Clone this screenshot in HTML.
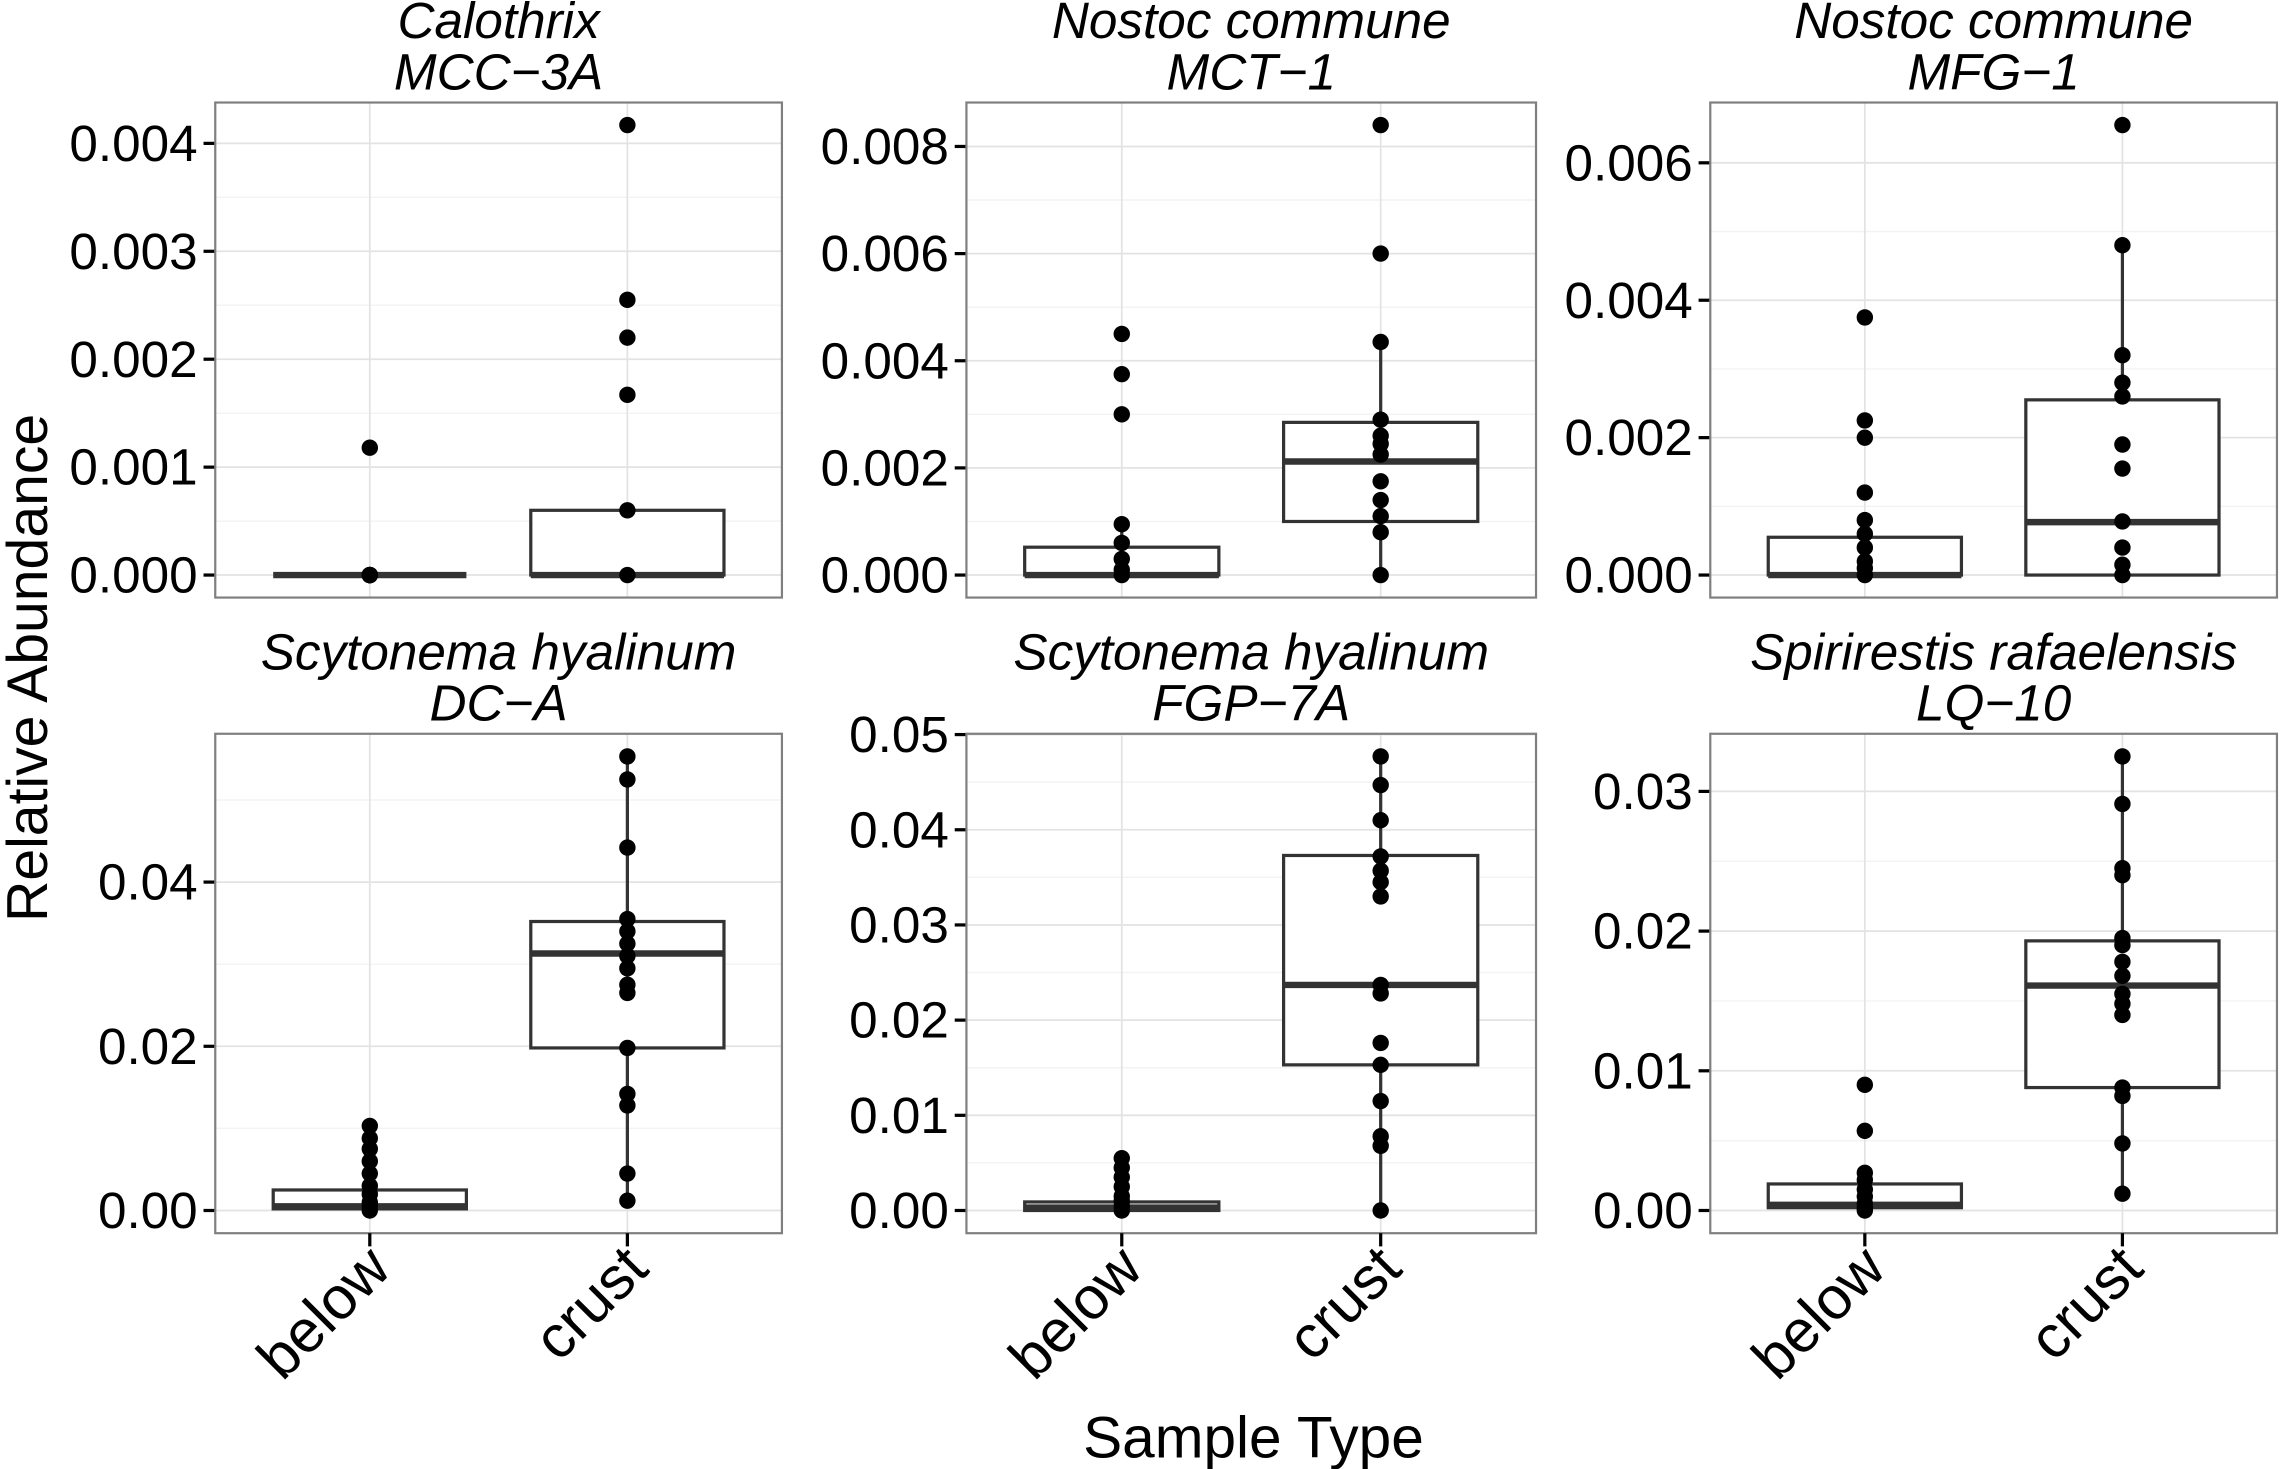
<!DOCTYPE html>
<html><head><meta charset="utf-8"><style>
html,body{margin:0;padding:0;background:#fff;}
svg{display:block;font-family:"Liberation Sans",Arial,sans-serif;}
</style></head><body>
<svg id="chart" width="2296" height="1469" viewBox="0 0 1568 1003" preserveAspectRatio="none" xmlns="http://www.w3.org/2000/svg">
<rect x="0" y="0" width="1568" height="1003" fill="#fff"/>
<text x="0" y="0" transform="translate(32,456) rotate(-90)" text-anchor="middle" font-size="39">Relative Abundance</text>
<text x="0" y="0" transform="translate(856,995)" text-anchor="middle" font-size="40">Sample Type</text>
</svg>
<script>
const categories = ["below","crust"];
const titleLine1 = ["Calothrix","Nostoc commune","Nostoc commune","Scytonema hyalinum","Scytonema hyalinum","Spirirestis rafaelensis"];
const titleLine2 = ["MCC\u22123A","MCT\u22121","MFG\u22121","DC\u2212A","FGP\u22127A","LQ\u221210"];
const belowValues = [
  [0.00118,0,0,0,0,0,0,0],
  [0.0045,0.00375,0.003,0.00095,0.0006,0.0003,0.0001,0],
  [0.00375,0.00225,0.002,0.0012,0.0008,0.0006,0.0004,0.0002,0.0001,0],
  [0.0103,0.0088,0.0075,0.006,0.0045,0.003,0.002,0.001,0.0005,0],
  [0.0055,0.0045,0.0035,0.0025,0.0015,0.001,0.0005,0],
  [0.009,0.0057,0.0027,0.0022,0.0015,0.001,0.0005,0.0002,0]
];
const crustValues = [
  [0.00417,0.00255,0.0022,0.00167,0.0006,0],
  [0.0084,0.006,0.00435,0.0029,0.0026,0.00245,0.00225,0.00175,0.0014,0.0011,0.0008,0],
  [0.00655,0.0048,0.0032,0.0028,0.0026,0.0019,0.00155,0.00078,0.0004,0.00015,0],
  [0.0553,0.0525,0.0442,0.0355,0.034,0.0325,0.031,0.0295,0.0275,0.0265,0.0198,0.0142,0.0128,0.0045,0.0012],
  [0.0477,0.0447,0.041,0.0372,0.0357,0.0345,0.033,0.0237,0.0228,0.0176,0.0153,0.0115,0.0078,0.0068,0],
  [0.0325,0.0291,0.0245,0.024,0.0195,0.019,0.0178,0.0168,0.0155,0.0148,0.014,0.0088,0.0082,0.0048,0.0012]
];
// box stats: [whiskerLow, q1, median, q3, whiskerHigh]
const belowBox = [
  [0,0,0,0,0],
  [0,0,0,0.00052,0.00095],
  [0,0,0,0.00055,0.0008],
  [0,0.0002,0.0005,0.0025,0.0055],
  [0,0,0.0003,0.0009,0.0015],
  [0,0.0002,0.0004,0.0019,0.0027]
];
const crustBox = [
  [0,0,0,0.0006,0.0006],
  [0,0.001,0.00212,0.00285,0.00435],
  [0,0,0.00077,0.00255,0.0048],
  [0.0012,0.0198,0.0313,0.0352,0.0553],
  [0,0.0153,0.0237,0.0373,0.0477],
  [0.0012,0.0088,0.0161,0.0193,0.0325]
];
const tickValues = [
  [0,0.001,0.002,0.003,0.004],
  [0,0.002,0.004,0.006,0.008],
  [0,0.002,0.004,0.006],
  [0,0.02,0.04],
  [0,0.01,0.02,0.03,0.04,0.05],
  [0,0.01,0.02,0.03]
];
const tickDecimals = [3,3,3,2,2,2];

const NS = "http://www.w3.org/2000/svg";
const svg = document.getElementById("chart");
const colsX = [[147,534],[660,1049],[1168,1555]];
const rowsY = [[70,408],[501,842]];
function mk(tag, attrs, parent){
  const e = document.createElementNS(NS, tag);
  for (const k in attrs) e.setAttribute(k, attrs[k]);
  (parent||svg).appendChild(e);
  return e;
}
for (let p = 0; p < 6; p++) {
  const [x0,x1] = colsX[p%3], [y0,y1] = rowsY[Math.floor(p/3)];
  const g = mk("g", {});
  
  
  const all = belowValues[p].concat(crustValues[p]);
  const dmax = Math.max(...all), dmin = Math.min(...all);
  const span = dmax - dmin;
  const lo = dmin - 0.05*span, hi = dmax + 0.05*span;
  const yS = v => y1 - (v - lo)/(hi - lo)*(y1 - y0);
  const xS = i => x0 + (0.6 + i)/2.2*(x1 - x0);
  const bw = 0.75/2.2*(x1 - x0);
  const ticks = tickValues[p];
  const step = ticks[1]-ticks[0];
  for (let t = ticks[0]-step/2; t <= hi; t += step/2) {
    if (t < lo) continue;
    const isMajor = Math.abs(((t-ticks[0])/step) - Math.round((t-ticks[0])/step)) < 1e-6;
    mk("line",{x1:x0,x2:x1,y1:yS(t),y2:yS(t),stroke:isMajor?"#e3e3e3":"#f3f3f3","stroke-width":isMajor?1.2:1},g);
  }
  categories.forEach((c,i)=>mk("line",{x1:xS(i),x2:xS(i),y1:y0,y2:y1,stroke:"#e3e3e3","stroke-width":1.2},g));
  ticks.forEach(t=>{
    mk("line",{x1:x0-8,x2:x0,y1:yS(t),y2:yS(t),stroke:"#000","stroke-width":2.2},g);
    const tx = mk("text",{x:0,y:0,"text-anchor":"end","font-size":35,transform:`translate(${x0-12},${yS(t)+12})`},g);
    tx.textContent = t.toFixed(tickDecimals[p]);
    
    
  });
  [belowBox[p], crustBox[p]].forEach((b,i)=>{
    const cx = xS(i);
    const bg = mk("g",{},g);
    
    
    mk("line",{x1:cx,x2:cx,y1:yS(b[0]),y2:yS(b[1]),stroke:"#333","stroke-width":2.2},bg);
    mk("line",{x1:cx,x2:cx,y1:yS(b[3]),y2:yS(b[4]),stroke:"#333","stroke-width":2.2},bg);
    mk("rect",{x:cx-bw/2,y:yS(b[3]),width:bw,height:Math.max(0,yS(b[1])-yS(b[3])),fill:"#fff",stroke:"#333","stroke-width":2.2},bg);
    mk("line",{x1:cx-bw/2,x2:cx+bw/2,y1:yS(b[2]),y2:yS(b[2]),stroke:"#333","stroke-width":4.4},bg);
  });
  [belowValues[p], crustValues[p]].forEach((vals,i)=>{
    vals.forEach(v=>{
      const c = mk("circle",{cx:xS(i),cy:yS(v),r:5.6,fill:"#000"},g);
      
      
    });
  });
  mk("rect",{x:x0,y:y0,width:x1-x0,height:y1-y0,fill:"none",stroke:"#7f7f7f","stroke-width":1.5},g);
  const cxT = (x0+x1)/2;
  const t1 = mk("text",{x:0,y:0,"text-anchor":"middle","font-size":35,"font-style":"italic",transform:`translate(${cxT},${y0-44})`},g);
  t1.textContent = titleLine1[p];
  
  
  const t2 = mk("text",{x:0,y:0,"text-anchor":"middle","font-size":35,"font-style":"italic",transform:`translate(${cxT},${y0-9})`},g);
  t2.textContent = titleLine2[p];
  
  
  if (p >= 3) {
    categories.forEach((c,i)=>{
      mk("line",{x1:xS(i),x2:xS(i),y1:y1,y2:y1+9,stroke:"#000","stroke-width":2.2},g);
      const tx = mk("text",{x:0,y:0,"text-anchor":"end","font-size":41,transform:`translate(${xS(i)+16},${y1+26}) rotate(-45)`},g);
      tx.textContent = c;
      
      
    });
  }
}
</script>
</body></html>
